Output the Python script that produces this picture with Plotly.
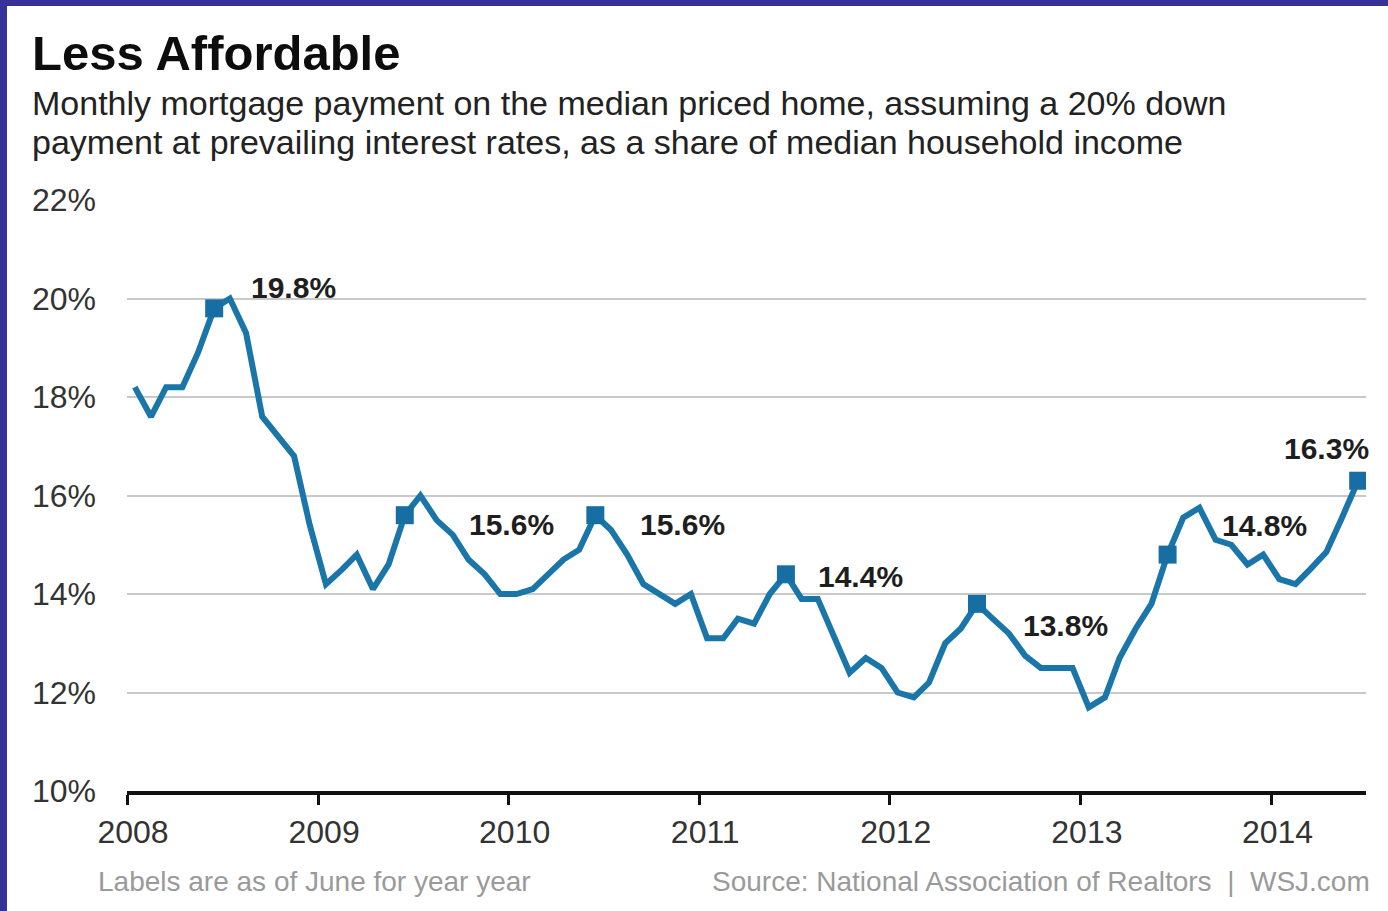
import pandas as pd
import plotly.graph_objects as go

# ---------------- data ----------------
start_month = "2008-01-01"
share_pct = [
    # 2008
    18.2, 17.6, 18.2, 18.2, 18.9, 19.8, 20.0, 19.3, 17.6, 17.2, 16.8, 15.4,
    # 2009
    14.2, 14.5, 14.8, 14.1, 14.6, 15.6, 16.0, 15.5, 15.2, 14.7, 14.4, 14.0,
    # 2010
    14.0, 14.1, 14.4, 14.7, 14.9, 15.6, 15.3, 14.8, 14.2, 14.0, 13.8, 14.0,
    # 2011
    13.1, 13.1, 13.5, 13.4, 14.0, 14.4, 13.9, 13.9, 13.1, 12.4, 12.7, 12.5,
    # 2012
    12.0, 11.9, 12.2, 13.0, 13.3, 13.8, 13.5, 13.2, 12.75, 12.5, 12.5, 12.5,
    # 2013
    11.7, 11.9, 12.7, 13.3, 13.8, 14.8, 15.55, 15.75, 15.1, 15.0, 14.6, 14.8,
    # 2014
    14.3, 14.2, 14.5, 14.85, 15.55, 16.3,
]
june_labels = ["19.8%", "15.6%", "15.6%", "14.4%", "13.8%", "14.8%", "16.3%"]
y_ticks = [10, 12, 14, 16, 18, 20, 22]
x_tick_years = ["2008", "2009", "2010", "2011", "2012", "2013", "2014"]

title = "Less Affordable"
subtitle_1 = "Monthly mortgage payment on the median priced home, assuming a 20% down"
subtitle_2 = "payment at prevailing interest rates, as a share of median household income"
note_left = "Labels are as of June for year year"
note_right = "Source: National Association of Realtors  |  WSJ.com"

# ---------------- derived ----------------
months = pd.date_range(start_month, periods=len(share_pct), freq="MS") + pd.Timedelta(days=15)
june_idx = [i for i, d in enumerate(months) if d.month == 6]
june_x = [months[i] for i in june_idx]
june_y = [share_pct[i] for i in june_idx]

# ---------------- layout geometry / style ----------------
W, H = 1388, 911
ML, MR, MT, MB = 127, 22, 200, 120
PW, PH = W - ML - MR, H - MT - MB
FONT = "Liberation Sans, Arial, Helvetica, sans-serif"
LINE_COLOR = "#1a75a8"
BORDER = "#36329a"


def xp(px):
    return (px - ML) / PW


def yp(py):
    return (H - MB - py) / PH


label_shifts = [(79, 21), (107, -9), (87, -9), (75, -2), (88, -22), (97, 29), (-32, 32)]

fig = go.Figure()
fig.add_trace(go.Scatter(
    x=months, y=share_pct, mode="lines",
    line=dict(color=LINE_COLOR, width=6, shape="linear"),
    hoverinfo="skip", showlegend=False,
))
fig.add_trace(go.Scatter(
    x=june_x, y=june_y, mode="markers",
    marker=dict(symbol="square", size=18, color="#166ea3"),
    hoverinfo="skip", showlegend=False,
))

annotations = []
for xv, yv, txt, (dx, dy) in zip(june_x, june_y, june_labels, label_shifts):
    annotations.append(dict(
        x=xv, y=yv, xref="x", yref="y", text="<b>" + txt + "</b>", showarrow=False,
        xshift=dx, yshift=dy, font=dict(family=FONT, size=30, color="#1e1e1e"),
        xanchor="center", yanchor="middle",
    ))

annotations += [
    dict(x=xp(30), y=yp(53), xref="paper", yref="paper", text="<b>" + title + "</b>",
         showarrow=False, xanchor="left", yanchor="middle",
         font=dict(family=FONT, size=49, color="#0d0d0d")),
    dict(x=xp(30), y=yp(103), xref="paper", yref="paper", text=subtitle_1,
         showarrow=False, xanchor="left", yanchor="middle",
         font=dict(family=FONT, size=34, color="#222222")),
    dict(x=xp(30), y=yp(142), xref="paper", yref="paper", text=subtitle_2,
         showarrow=False, xanchor="left", yanchor="middle",
         font=dict(family=FONT, size=34, color="#222222")),
    dict(x=xp(96), y=yp(881), xref="paper", yref="paper", text=note_left,
         showarrow=False, xanchor="left", yanchor="middle",
         font=dict(family=FONT, size=28, color="#9a9a9a")),
    dict(x=xp(1372), y=yp(881), xref="paper", yref="paper", text=note_right,
         showarrow=False, xanchor="right", yanchor="middle",
         font=dict(family=FONT, size=28, color="#9a9a9a")),
]

shapes = [
    # dark blue frame (top and left edges)
    dict(type="rect", xref="paper", yref="paper", x0=xp(0), x1=xp(W), y0=yp(0), y1=yp(6),
         fillcolor=BORDER, line=dict(width=0), layer="above"),
    dict(type="rect", xref="paper", yref="paper", x0=xp(0), x1=xp(7), y0=yp(0), y1=yp(H),
         fillcolor=BORDER, line=dict(width=0), layer="above"),
]

fig.update_layout(
    width=W, height=H,
    margin=dict(l=ML, r=MR, t=MT, b=MB, pad=0),
    paper_bgcolor="white", plot_bgcolor="white",
    showlegend=False,
    annotations=annotations,
    shapes=shapes,
    xaxis=dict(
        type="date",
        range=["2008-01-01", "2014-07-01"],
        tickvals=[pd.Timestamp(y + "-01-01") for y in x_tick_years],
        ticktext=x_tick_years,
        showgrid=False, zeroline=False,
        showline=True, linecolor="#111111", linewidth=4,
        ticks="outside", ticklen=10, tickwidth=3, tickcolor="#111111",
        ticklabelshift=6,
        tickfont=dict(family=FONT, size=32, color="#333333"),
        fixedrange=True,
    ),
    yaxis=dict(
        range=[10, 22],
        tickvals=y_ticks,
        ticktext=[f"{v}%" for v in y_ticks],
        showgrid=True, gridcolor="#c9c9c9", gridwidth=2,
        zeroline=False, showline=False, ticks="",
        ticklabelstandoff=30,
        tickfont=dict(family=FONT, size=32, color="#333333"),
        fixedrange=True,
    ),
)

fig.write_html(
    "out.html",
    config={"displayModeBar": False},
    post_script="document.body.style.margin='0px';document.body.style.overflow='hidden';",
)
